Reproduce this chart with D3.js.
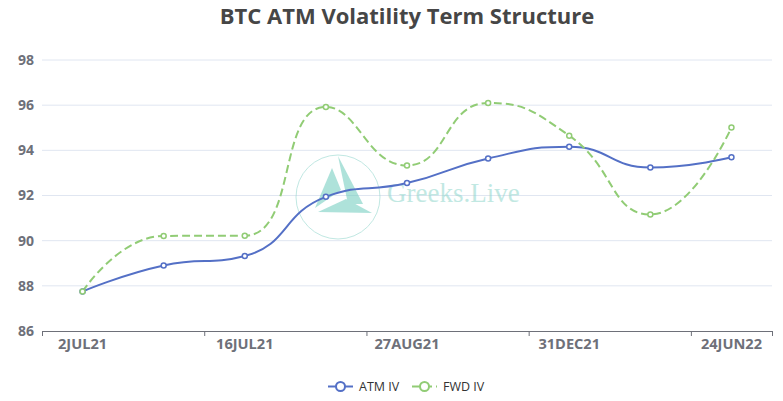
<!DOCTYPE html>
<html><head><meta charset="utf-8">
<script src="https://cdn.jsdelivr.net/npm/d3@7/dist/d3.min.js"></script>
<style>html,body{margin:0;padding:0;background:#fff;}svg{display:block;}</style>
</head><body><svg id="c" width="783" height="401"></svg>
<script>
const categories = ["2JUL21","9JUL21","16JUL21","30JUL21","27AUG21","24SEP21","31DEC21","25MAR22","24JUN22"];
const atmIV = [87.75, 88.90, 89.32, 91.94, 92.55, 93.64, 94.16, 93.24, 93.69];
const fwdIV = [87.75, 90.21, 90.22, 95.92, 93.33, 96.10, 94.65, 91.16, 95.01];
const yTicks = [86, 88, 90, 92, 94, 96, 98];
const labelEvery = 2;
const seriesNames = ["ATM IV", "FWD IV"];
const colors = ["#5470c6", "#91cc75"];

const svg = d3.select("#c");
const W = 783, H = 401;
const m = {left: 42, right: 11, top: 60, bottom: 70};
const x = d3.scaleBand().domain(categories).range([m.left, W - m.right]).padding(0);
const y = d3.scaleLinear().domain([86, 98]).range([H - m.bottom, m.top]);
const cx = c => x(c) + x.bandwidth() / 2;

// ECharts-like smooth curve
function ECSmooth(ctx){ this._ctx = ctx; }
ECSmooth.prototype = {
  areaStart(){}, areaEnd(){},
  lineStart(){ this._p = []; },
  point(a, b){ this._p.push([+a, +b]); },
  lineEnd(){
    const p = this._p, ctx = this._ctx, s = 0.5, n = p.length;
    if (!n) return;
    ctx.moveTo(p[0][0], p[0][1]);
    let c0x = p[0][0], c0y = p[0][1];
    for (let i = 1; i < n; i++) {
      const [X, Y] = p[i], [px, py] = p[i-1];
      let tx, ty, ncx = X, ncy = Y;
      if (i + 1 >= n) { tx = X; ty = Y; }
      else {
        const [nx, ny] = p[i+1];
        let vx = nx - px, vy = ny - py;
        const l0 = Math.hypot(X - px, Y - py), l1 = Math.hypot(nx - X, ny - Y);
        const r = l1 / (l0 + l1);
        ncx = X + vx * s * r; ncy = Y + vy * s * r;
        ncx = Math.max(Math.min(ncx, Math.max(nx, X)), Math.min(nx, X));
        ncy = Math.max(Math.min(ncy, Math.max(ny, Y)), Math.min(ny, Y));
        vx = ncx - X; vy = ncy - Y;
        tx = X - vx * l0 / l1; ty = Y - vy * l0 / l1;
        tx = Math.max(Math.min(tx, Math.max(px, X)), Math.min(px, X));
        ty = Math.max(Math.min(ty, Math.max(py, Y)), Math.min(py, Y));
        vx = X - tx; vy = Y - ty;
        ncx = X + vx * l1 / l0; ncy = Y + vy * l1 / l0;
      }
      ctx.bezierCurveTo(c0x, c0y, tx, ty, X, Y);
      c0x = ncx; c0y = ncy;
    }
  }
};
const curveEC = ctx => new ECSmooth(ctx);

// grid lines
svg.append("g").selectAll("line").data(yTicks.filter(t => t !== 86)).join("line")
  .attr("x1", m.left).attr("x2", W - m.right)
  .attr("y1", d => y(d)).attr("y2", d => y(d))
  .attr("stroke", "#e0e6f1").attr("stroke-width", 1);

// watermark
const wm = svg.append("g").attr("opacity", 0.55);
wm.append("circle").attr("cx", 338).attr("cy", 197).attr("r", 42)
  .attr("fill", "none").attr("stroke", "#8fd6cc").attr("stroke-width", 1);
const tri = [
  [[332,168],[315,208],[341,190]],
  [[338,156],[363,204],[348,204]],
  [[318,212],[372,213],[346,199]]
];
wm.selectAll("path.t").data(tri).join("path").attr("class","t")
  .attr("d", d => "M" + d.map(q => q.join(",")).join("L") + "Z")
  .attr("fill", "#6ccbbd");
wm.append("text").attr("x", 387).attr("y", 202).text("Greeks.Live")
  .attr("font-family", "'Liberation Serif', 'DejaVu Serif', serif")
  .attr("font-size", 27).attr("fill", "#8fd6cc");

// y axis labels
svg.append("g").selectAll("text").data(yTicks).join("text")
  .attr("x", m.left - 8).attr("y", d => y(d)).attr("dy", "0.35em")
  .attr("text-anchor", "end")
  .attr("font-family", "'Open Sans', sans-serif").attr("font-weight", "bold")
  .attr("font-size", 14).attr("fill", "#6e7079").text(d => d);

// x axis
const xa = svg.append("g");
xa.append("line").attr("x1", m.left).attr("x2", W - m.right)
  .attr("y1", y(86) + 0.5).attr("y2", y(86) + 0.5).attr("stroke", "#6e7079");
const tickCats = categories.filter((c, i) => i % labelEvery === 0);
const tickXs = tickCats.map(c => x(c)).concat([x.range()[1]]);
xa.selectAll("line.tk").data(tickXs).join("line").attr("class", "tk")
  .attr("x1", d => d + 0.5).attr("x2", d => d + 0.5)
  .attr("y1", y(86)).attr("y2", y(86) + 5).attr("stroke", "#6e7079");
xa.selectAll("text").data(tickCats).join("text")
  .attr("x", d => cx(d)).attr("y", y(86) + 13).attr("dy", "0.35em")
  .attr("text-anchor", "middle")
  .attr("font-family", "'Open Sans', sans-serif").attr("font-weight", "bold")
  .attr("font-size", 14.6).attr("fill", "#6e7079").text(d => d);

// series
const line = d3.line().x((d, i) => cx(categories[i])).y(d => y(d)).curve(curveEC);
const series = [atmIV, fwdIV];
series.forEach((vals, k) => {
  svg.append("path").attr("d", line(vals)).attr("fill", "none")
    .attr("stroke", colors[k]).attr("stroke-width", 2)
    .attr("stroke-dasharray", k === 1 ? "8,4" : null);
});
series.forEach((vals, k) => {
  svg.append("g").selectAll("circle").data(vals).join("circle")
    .attr("cx", (d, i) => cx(categories[i])).attr("cy", d => y(d)).attr("r", 2.5)
    .attr("fill", "#fff").attr("stroke", colors[k]).attr("stroke-width", 1.5);
});

// title
svg.append("text").attr("x", (m.left + W - m.right) / 2).attr("y", 24)
  .attr("text-anchor", "middle")
  .attr("font-family", "'Open Sans', sans-serif").attr("font-weight", "bold")
  .attr("font-size", 22).attr("fill", "#464646")
  .text("BTC ATM Volatility Term Structure");

// legend
const legendX = [328, 412];
const ly = 386.5;
seriesNames.forEach((nm, k) => {
  const g = svg.append("g");
  g.append("line").attr("x1", legendX[k]).attr("x2", legendX[k] + 25)
    .attr("y1", ly).attr("y2", ly).attr("stroke", colors[k]).attr("stroke-width", 2)
    .attr("stroke-dasharray", k === 1 ? "8,4" : null);
  g.append("circle").attr("cx", legendX[k] + 12.5).attr("cy", ly).attr("r", 4.5)
    .attr("fill", "#fff").attr("stroke", colors[k]).attr("stroke-width", 2);
  g.append("text").attr("x", legendX[k] + 31).attr("y", ly).attr("dy", "0.35em")
    .attr("font-family", "'Open Sans', sans-serif").attr("font-size", 12.5)
    .attr("fill", "#333").text(nm);
});
</script></body></html>
